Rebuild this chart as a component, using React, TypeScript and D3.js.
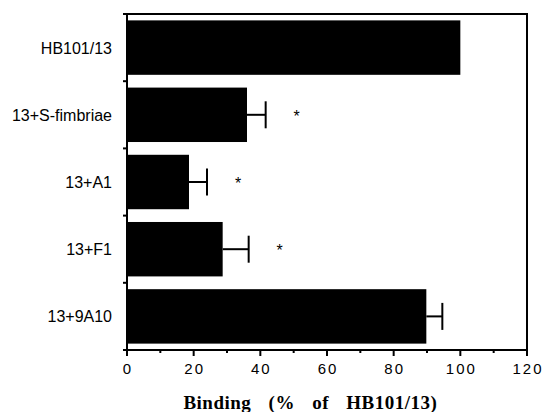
import React from "react";
import * as d3 from "d3";

const categories = ["HB101/13", "13+S-fimbriae", "13+A1", "13+F1", "13+9A10"];
const values = [100, 36, 18.6, 28.7, 89.8];
const errorHigh = [0, 41.6, 24, 36.5, 94.6];
const significant = [false, true, true, true, false];
const xTicks = [0, 20, 40, 60, 80, 100, 120];
const xMinorTicks = [10, 30, 50, 70, 90, 110];
const xLabel = "Binding (% of HB101/13)";

const W = 551;
const H = 412;
const M = { left: 127, right: 24, top: 14, bottom: 62 };

export default function App() {
  const x = d3.scaleLinear().domain([0, 120]).range([M.left, W - M.right]);
  const y = d3
    .scaleBand<string>()
    .domain(categories)
    .range([M.top, H - M.bottom])
    .paddingInner(0.19)
    .paddingOuter(0.095);
  const step = y.step();
  const bottom = H - M.bottom;
  const sans = "'Liberation Sans', Arial, Helvetica, sans-serif";
  const serif = "'Liberation Serif', 'Times New Roman', serif";
  const boundaries = d3.range(categories.length + 1).map((k) => M.top + k * step);

  return (
    <svg
      width={W}
      height={H}
      style={{ position: "absolute", left: 0, top: 0, background: "#fff" }}
    >
      {categories.map((c, i) => {
        const y0 = y(c)!;
        const bh = y.bandwidth();
        const cy = y0 + bh / 2;
        const hasErr = errorHigh[i] > values[i];
        return (
          <g key={c}>
            <rect x={x(0)} y={y0} width={x(values[i]) - x(0)} height={bh} fill="#000" />
            {hasErr && (
              <g stroke="#000" strokeWidth={2}>
                <line x1={x(values[i])} x2={x(errorHigh[i])} y1={cy} y2={cy} />
                <line x1={x(errorHigh[i])} x2={x(errorHigh[i])} y1={cy - 13.5} y2={cy + 13.5} />
              </g>
            )}
            {significant[i] && (
              <text
                x={x(errorHigh[i]) + 31}
                y={cy + 7}
                fontFamily={sans}
                fontSize={16}
                textAnchor="middle"
                fill="#000"
              >
                *
              </text>
            )}
            <text
              x={112}
              y={cy + 6}
              fontFamily={sans}
              fontSize={16}
              textAnchor="end"
              fill="#000"
            >
              {c}
            </text>
          </g>
        );
      })}

      <rect
        x={x(0)}
        y={M.top}
        width={x(120) - x(0)}
        height={bottom - M.top}
        fill="none"
        stroke="#000"
        strokeWidth={2}
      />

      {boundaries.map((b, k) => (
        <line key={k} x1={x(0) - 4} x2={x(0)} y1={b} y2={b} stroke="#000" strokeWidth={2} />
      ))}

      {xTicks.map((t) => (
        <g key={t}>
          <line x1={x(t)} x2={x(t)} y1={bottom} y2={bottom + 6} stroke="#000" strokeWidth={2} />
          <text
            x={x(t) + 1}
            y={374}
            fontFamily={sans}
            fontSize={15}
            letterSpacing={2}
            textAnchor="middle"
            fill="#000"
          >
            {t}
          </text>
        </g>
      ))}
      {xMinorTicks.map((t) => (
        <line key={t} x1={x(t)} x2={x(t)} y1={bottom} y2={bottom + 3} stroke="#000" strokeWidth={2} />
      ))}

      <text
        x={x(55)}
        y={409}
        fontFamily={serif}
        fontWeight="bold"
        fontSize={19}
        wordSpacing={12}
        letterSpacing={0.5}
        textAnchor="middle"
        fill="#000"
      >
        {xLabel}
      </text>
    </svg>
  );
}
